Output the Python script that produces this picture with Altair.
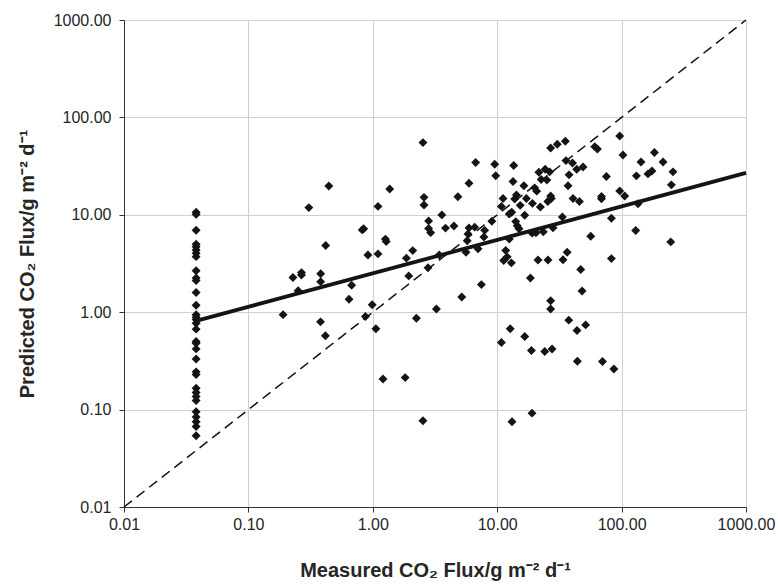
import altair as alt
import pandas as pd

# Points at the detection-limit column (measured ~0.038)
col_x = 0.038
col_y = [10.6, 10.1, 6.95, 4.99, 4.69, 4.36, 4.04, 3.72, 2.67, 2.25, 2.11, 1.59, 1.18,
         0.94, 0.89, 0.84, 0.77, 0.67, 0.50, 0.48, 0.42, 0.33, 0.244, 0.229, 0.166,
         0.150, 0.136, 0.124, 0.095, 0.084, 0.075, 0.067, 0.054]

meas = [2.53, 6.71, 9.55, 9.73, 0.443, 5.93, 0.306, 1.368, 1.101, 2.58, 2.58, 4.83, 11.14,
        10.81, 3.59, 2.81, 2.81, 2.92, 3.84, 4.49, 5.93, 6.59, 5.82, 5.74, 7.93, 7.82, 9.06,
        0.822, 0.845, 1.262, 1.282, 0.418, 0.914, 1.101, 1.862, 2.094, 3.42, 5.61, 7.01,
        11.70, 12.03, 11.28, 13.0, 0.228, 0.267, 0.267, 0.381, 0.381, 0.676, 0.251, 1.944,
        2.78, 7.46, 5.19, 0.644, 0.989, 0.190, 0.872, 0.380, 1.059, 0.416, 2.241, 3.245,
        10.81, 12.72, 1.208, 1.821, 2.529, 13.15, 96.6, 102.6, 26.9, 30.4, 35.3, 60.8, 63.9,
        13.57, 13.40, 16.39, 21.63, 24.3, 26.4, 22.58, 25.1, 20.0, 20.78, 35.7, 40.3, 37.8,
        43.6, 49.0, 75.5, 37.1, 14.27, 13.83, 17.17, 19.19, 26.9, 27.2, 25.5, 40.7, 45.8,
        68.9, 68.9, 96.6, 105.9, 143.2, 183.6, 215.3, 131.5, 163.0, 175.4, 258.8, 251.3,
        13.09, 12.49, 15.31, 16.64, 22.24, 14.09, 14.49, 14.97, 33.4, 82.8, 135.5, 28.1,
        19.1, 20.5, 23.49, 12.5, 56.5, 129.8, 248.3, 21.28, 25.6, 33.8, 36.5, 82.8, 18.49,
        46.9, 48.1, 26.9, 26.9, 37.6, 43.8, 51.4, 16.64, 18.84, 24.1, 27.6, 44.1, 70.2,
        86.7, 19.05]
pred = [55.1, 34.5, 33.0, 25.2, 19.8, 21.1, 11.85, 18.4, 12.2, 15.1, 12.6, 15.3, 14.7,
        12.2, 9.98, 8.66, 7.25, 6.56, 7.3, 7.69, 7.34, 7.47, 6.37, 5.42, 6.92, 5.93, 8.6,
        7.00, 7.18, 5.63, 5.31, 4.83, 3.86, 3.97, 3.59, 4.29, 3.86, 4.13, 4.49,
        4.31, 3.70, 3.40, 3.21, 2.27, 2.55, 2.41, 2.48, 2.06, 1.89, 1.66, 2.36,
        2.86, 1.92, 1.43, 1.36, 1.19, 0.944, 0.902, 0.796, 0.675, 0.572, 0.865, 1.08,
        0.489, 0.675, 0.206, 0.213, 0.077, 0.075, 64.5, 41.2, 48.6, 53.0, 56.9, 50.1, 47.4,
        32.1, 22.0, 19.9, 27.4, 29.4, 27.6, 23.0, 22.7, 18.9, 17.5, 36.0, 34.1, 25.7,
        29.4, 31.0, 24.7, 19.9, 16.0, 14.5, 14.7, 13.1, 15.6, 14.7, 13.7, 14.7, 13.7,
        15.4, 14.6, 17.6, 15.6, 34.9, 43.7, 34.9, 25.1, 26.3, 28.2, 27.6, 20.3,
        10.6, 10.2, 12.5, 9.9, 12.0, 8.51, 7.73, 7.2, 9.51, 9.23, 13.0, 7.37,
        6.48, 6.55, 6.68, 5.63, 6.03, 6.9, 5.27, 3.43, 3.43, 3.45, 4.13, 3.55, 2.24,
        2.74, 1.65, 1.31, 1.08, 0.829, 0.648, 0.741, 0.563, 0.404, 0.395, 0.419, 0.313, 0.312,
        0.261, 0.092]

one_to_one_x = [0.01, 1000]
one_to_one_y = [0.01, 1000]
fit_x = [0.038, 1000]
fit_y = [0.815, 26.9]

tick_vals = [0.01, 0.1, 1, 10, 100, 1000]

pts = pd.DataFrame({
    "x": [col_x] * len(col_y) + meas,
    "y": col_y + pred,
})
diag = pd.DataFrame({"x": one_to_one_x, "y": one_to_one_y})
fit = pd.DataFrame({"x": fit_x, "y": fit_y})

FONT = "Liberation Sans"
xscale = alt.Scale(type="log", domain=[0.01, 1000], nice=False)
yscale = alt.Scale(type="log", domain=[0.01, 1000], nice=False)

xaxis = alt.Axis(values=tick_vals, format=".2f", title="Measured CO₂ Flux/g m⁻² d⁻¹",
                 grid=True, gridColor="#d0d0d0", gridWidth=1,
                 domainColor="#333333", tickColor="#333333", tickSize=5,
                 labelFont=FONT, labelFontSize=16, labelColor="#262626", labelPadding=4,
                 labelFlush=False, labelOverlap=False,
                 titleFont=FONT, titleFontSize=20, titleFontWeight="bold", titleColor="#262626",
                 titleX=311, titleY=69, titleBaseline="alphabetic", titleAlign="center")
yaxis = alt.Axis(values=tick_vals, format=".2f", title="Predicted CO₂ Flux/g m⁻² d⁻¹",
                 grid=True, gridColor="#d0d0d0", gridWidth=1,
                 domainColor="#333333", tickColor="#333333", tickSize=5,
                 labelFont=FONT, labelFontSize=16, labelColor="#262626", labelPadding=8,
                 labelFlush=False, labelOverlap=False,
                 titleFont=FONT, titleFontSize=20, titleFontWeight="bold", titleColor="#262626",
                 titleX=-91, titleY=243.5, titleAngle=-90, titleBaseline="alphabetic",
                 titleAlign="center")

points = alt.Chart(pts).mark_point(shape="diamond", filled=True, size=80,
                                   color="#141414", opacity=1).encode(
    x=alt.X("x:Q", scale=xscale, axis=xaxis),
    y=alt.Y("y:Q", scale=yscale, axis=yaxis),
)
dashed = alt.Chart(diag).mark_line(color="#111111", strokeWidth=1.5,
                                   strokeDash=[10, 6]).encode(
    x=alt.X("x:Q", scale=xscale), y=alt.Y("y:Q", scale=yscale))
reg = alt.Chart(fit).mark_line(color="#141414", strokeWidth=3.8).encode(
    x=alt.X("x:Q", scale=xscale), y=alt.Y("y:Q", scale=yscale))

chart = alt.layer(points, dashed, reg).properties(
    width=622, height=487,
    autosize=alt.AutoSizeParams(type="none"),
    padding={"left": 124, "top": 20, "right": 32, "bottom": 77},
    background="white",
).configure_view(stroke=None)

chart.save("out.html", embed_options={"renderer": "svg", "actions": False})
